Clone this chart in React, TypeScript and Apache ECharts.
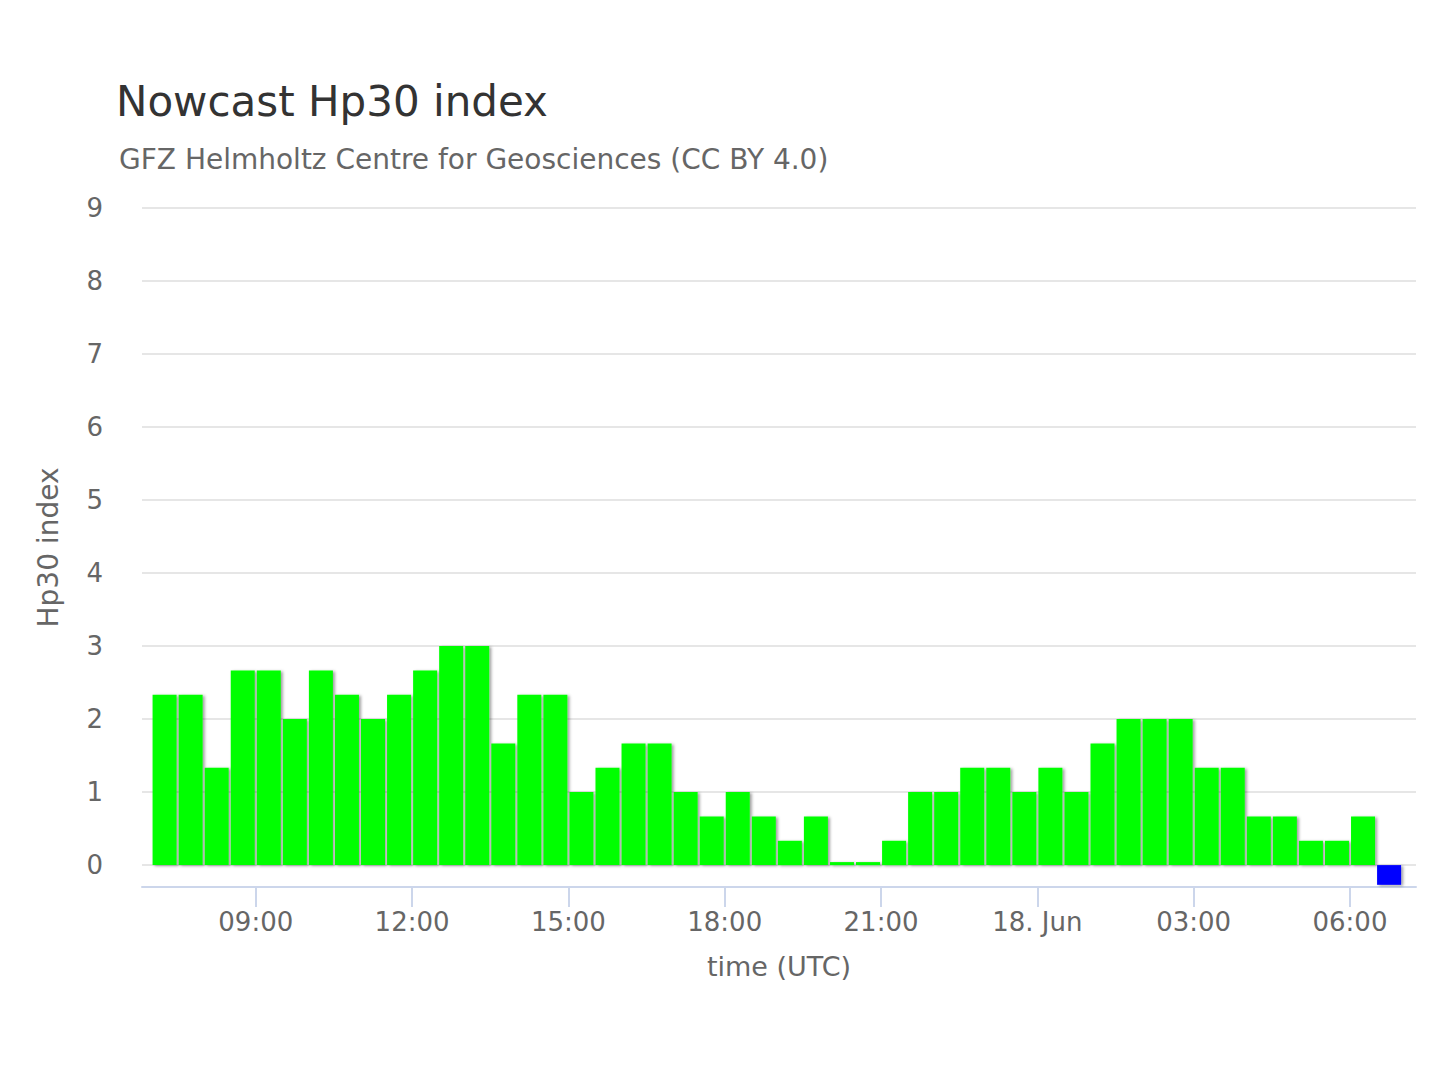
import React, { useEffect, useRef } from "react";
import * as echarts from "echarts";

const TITLE = "Nowcast Hp30 index";
const SUBTITLE = "GFZ Helmholtz Centre for Geosciences (CC BY 4.0)";
const X_AXIS_NAME = "time (UTC)";
const Y_AXIS_NAME = "Hp30 index";
const MONTHS = ["Jan", "Feb", "Mar", "Apr", "May", "Jun", "Jul", "Aug", "Sep", "Oct", "Nov", "Dec"];

// 30-minute interval mid-points (UTC)
const times = [
  "2025-06-17T07:15:00Z", "2025-06-17T07:45:00Z", "2025-06-17T08:15:00Z", "2025-06-17T08:45:00Z",
  "2025-06-17T09:15:00Z", "2025-06-17T09:45:00Z", "2025-06-17T10:15:00Z", "2025-06-17T10:45:00Z",
  "2025-06-17T11:15:00Z", "2025-06-17T11:45:00Z", "2025-06-17T12:15:00Z", "2025-06-17T12:45:00Z",
  "2025-06-17T13:15:00Z", "2025-06-17T13:45:00Z", "2025-06-17T14:15:00Z", "2025-06-17T14:45:00Z",
  "2025-06-17T15:15:00Z", "2025-06-17T15:45:00Z", "2025-06-17T16:15:00Z", "2025-06-17T16:45:00Z",
  "2025-06-17T17:15:00Z", "2025-06-17T17:45:00Z", "2025-06-17T18:15:00Z", "2025-06-17T18:45:00Z",
  "2025-06-17T19:15:00Z", "2025-06-17T19:45:00Z", "2025-06-17T20:15:00Z", "2025-06-17T20:45:00Z",
  "2025-06-17T21:15:00Z", "2025-06-17T21:45:00Z", "2025-06-17T22:15:00Z", "2025-06-17T22:45:00Z",
  "2025-06-17T23:15:00Z", "2025-06-17T23:45:00Z", "2025-06-18T00:15:00Z", "2025-06-18T00:45:00Z",
  "2025-06-18T01:15:00Z", "2025-06-18T01:45:00Z", "2025-06-18T02:15:00Z", "2025-06-18T02:45:00Z",
  "2025-06-18T03:15:00Z", "2025-06-18T03:45:00Z", "2025-06-18T04:15:00Z", "2025-06-18T04:45:00Z",
  "2025-06-18T05:15:00Z", "2025-06-18T05:45:00Z", "2025-06-18T06:15:00Z", "2025-06-18T06:45:00Z",
];

const hp30 = [
  2.333, 2.333, 1.333, 2.667,
  2.667, 2.0, 2.667, 2.333,
  2.0, 2.333, 2.667, 3.0,
  3.0, 1.667, 2.333, 2.333,
  1.0, 1.333, 1.667, 1.667,
  1.0, 0.667, 1.0, 0.667,
  0.333, 0.667, 0.0, 0.0,
  0.333, 1.0, 1.0, 1.333,
  1.333, 1.0, 1.333, 1.0,
  1.667, 2.0, 2.0, 2.0,
  1.333, 1.333, 0.667, 0.667,
  0.333, 0.333, 0.667, -0.27,
];

// x-axis tick positions (UTC)
const xTicks = [
  "2025-06-17T09:00:00Z", "2025-06-17T12:00:00Z", "2025-06-17T15:00:00Z", "2025-06-17T18:00:00Z",
  "2025-06-17T21:00:00Z", "2025-06-18T00:00:00Z", "2025-06-18T03:00:00Z", "2025-06-18T06:00:00Z",
];

const X_MIN = "2025-06-17T06:49:00Z";
const X_MAX = "2025-06-18T07:16:00Z";
const Y_MIN = -0.3;
const Y_MAX = 9;

const FONT = "DejaVu Sans";
const pad2 = (n: number) => (n < 10 ? "0" + n : String(n));
const ms = (s: string) => new Date(s).getTime();

export default function App() {
  const ref = useRef<HTMLDivElement>(null);

  useEffect(() => {
    if (!ref.current) return;
    const chart = echarts.init(ref.current, null, { renderer: "svg" });
    const tickValues = xTicks.map(ms);
    chart.setOption({
      animation: false,
      backgroundColor: "#ffffff",
      title: [
        {
          text: TITLE,
          left: 116,
          top: 80,
          padding: 0,
          textStyle: { fontFamily: FONT, fontSize: 42, fontWeight: "normal", color: "#333333" },
        },
        {
          text: SUBTITLE,
          left: 119,
          top: 145,
          padding: 0,
          textStyle: { fontFamily: FONT, fontSize: 28, fontWeight: "normal", color: "#666666" },
        },
      ],
      grid: { left: 142, right: 24, top: 208, bottom: 193 },
      xAxis: {
        type: "value",
        min: ms(X_MIN),
        max: ms(X_MAX),
        scale: true,
        axisLine: { show: true, onZero: false, lineStyle: { color: "#ccd6eb", width: 2 } },
        axisTick: {
          show: true,
          length: 20,
          customValues: tickValues,
          lineStyle: { color: "#ccd6eb", width: 2 },
        },
        splitLine: { show: false },
        axisLabel: {
          customValues: tickValues,
          color: "#666666",
          fontFamily: FONT,
          fontSize: 26,
          margin: 22,
          formatter: (v: number) => {
            const d = new Date(v);
            const h = d.getUTCHours();
            const m = d.getUTCMinutes();
            if (h === 0 && m === 0) return d.getUTCDate() + ". " + MONTHS[d.getUTCMonth()];
            return pad2(h) + ":" + pad2(m);
          },
        },
        name: X_AXIS_NAME,
        nameLocation: "middle",
        nameGap: 66,
        nameTextStyle: { color: "#666666", fontFamily: FONT, fontSize: 27 },
      },
      yAxis: {
        type: "value",
        min: Y_MIN,
        max: Y_MAX,
        minInterval: 1,
        maxInterval: 1,
        splitNumber: 9,
        axisLine: { show: false },
        axisTick: { show: false },
        axisLabel: {
          color: "#666666",
          fontFamily: FONT,
          fontSize: 26,
          margin: 39,
          padding: [8, 0, 0, 0],
          formatter: (v: number) => (v < 0 ? "" : String(v)),
        },
        splitLine: { show: true, showMinLine: false, lineStyle: { color: "#e6e6e6", width: 2 } },
        name: Y_AXIS_NAME,
        nameLocation: "middle",
        nameRotate: 90,
        nameGap: 80,
        nameTextStyle: { color: "#666666", fontFamily: FONT, fontSize: 28 },
      },
      series: [
        {
          type: "bar",
          data: times.map((t, i) => [ms(t), hp30[i]]),
          barWidth: 24,
          barMinHeight: 3,
          itemStyle: {
            color: (p: any) => (p.value[1] < 0 ? "#0000ff" : "#00ff00"),
            borderWidth: 0,
            shadowColor: "rgba(0,0,0,0.38)",
            shadowBlur: 3,
            shadowOffsetX: 2,
            shadowOffsetY: 1,
          },
        },
      ],
    });
    return () => chart.dispose();
  }, []);

  return (
    <div
      ref={ref}
      style={{ position: "fixed", left: 0, top: 0, width: 1440, height: 1080, background: "#fff" }}
    />
  );
}
